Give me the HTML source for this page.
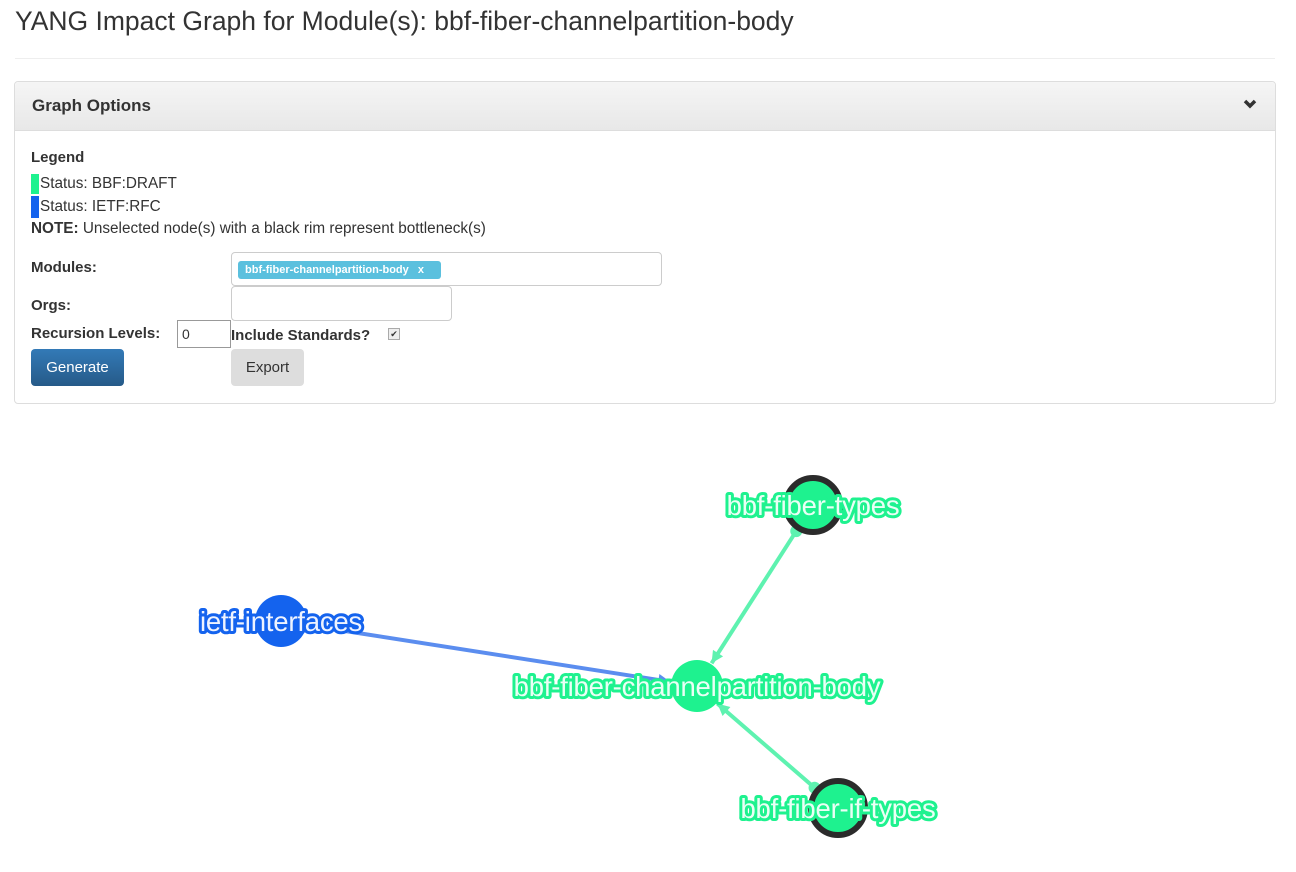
<!DOCTYPE html>
<html><head><meta charset="utf-8">
<style>
body{margin:0;width:1296px;height:872px;background:#fff;font-family:"Liberation Sans",Arial,sans-serif;color:#333;position:relative;overflow:hidden}
.abs{position:absolute}
h1{position:absolute;left:15px;top:6px;margin:0;font-weight:normal;font-size:26.5px;color:#333}
.hr{left:15px;top:58px;width:1260px;height:1px;background:#eee}
.panel{left:14px;top:81px;width:1260px;height:321px;border:1px solid #ddd;border-radius:4px}
.ph{left:0;top:0;width:1260px;height:48px;background:linear-gradient(#f5f5f5,#e8e8e8);border-bottom:1px solid #ddd;border-radius:4px 4px 0 0}
.b{font-weight:bold;font-size:15px}
.t{font-size:15.3px}
</style></head><body>
<h1>YANG Impact Graph for Module(s): bbf-fiber-channelpartition-body</h1>
<div class="abs hr"></div>
<div class="abs panel">
  <div class="abs ph">
    <div class="abs" style="left:17px;top:14px;font-size:17px;font-weight:bold">Graph Options</div>
    <svg class="abs" style="left:1228px;top:17px" width="14" height="10"><path d="M2 2 L7 7 L12 2" stroke="#333" stroke-width="3.5" fill="none"/></svg>
  </div>
</div>
<div class="abs b" style="left:31px;top:149px">Legend</div>
<div class="abs" style="left:31px;top:174px;width:8px;height:20px;background:#1ef28f"></div>
<div class="abs t" style="left:40px;top:175px">Status: BBF:DRAFT</div>
<div class="abs" style="left:31px;top:196px;width:8px;height:22px;background:#1463ee"></div>
<div class="abs t" style="left:40px;top:198px">Status: IETF:RFC</div>
<div class="abs t" style="left:31px;top:220px"><b>NOTE:</b> Unselected node(s) with a black rim represent bottleneck(s)</div>
<div class="abs b" style="left:31px;top:259px">Modules:</div>
<div class="abs" style="left:231px;top:252px;width:429px;height:32px;border:1px solid #ccc;border-radius:4px">
  <div class="abs" style="left:6px;top:8px;height:18px;width:203px;background:#5bc0de;border-radius:3px;color:#fff;font-size:11px;font-weight:bold;line-height:18px;padding-left:7px;box-sizing:border-box">bbf-fiber-channelpartition-body &nbsp;&nbsp;x</div>
</div>
<div class="abs b" style="left:31px;top:297px">Orgs:</div>
<div class="abs" style="left:231px;top:286px;width:219px;height:33px;border:1px solid #ccc;border-radius:4px"></div>
<div class="abs b" style="left:31px;top:325px">Recursion Levels:</div>
<div class="abs" style="left:177px;top:320px;width:54px;height:28px;border:1px solid #999;font-size:14px;line-height:27px;padding-left:4px;box-sizing:border-box">0</div>
<div class="abs b" style="left:231px;top:327px">Include Standards?</div>
<div class="abs" style="left:388px;top:328px;width:10px;height:10px;border:1px solid #aaa;background:#eee;font-size:9px;line-height:10px;text-align:center">✔</div>
<div class="abs" style="left:31px;top:349px;width:93px;height:37px;background:linear-gradient(#337ab7,#265a88);border-radius:4px;color:#fff;font-size:15px;line-height:37px;text-align:center">Generate</div>
<div class="abs" style="left:231px;top:349px;width:73px;height:37px;background:#ddd;border-radius:4px;color:#333;font-size:15px;line-height:37px;text-align:center">Export</div>

<svg class="abs" style="left:0;top:0" width="1296" height="872" id="g"></svg>
<script>
const nodeNames=["bbf-fiber-types","ietf-interfaces","bbf-fiber-channelpartition-body","bbf-fiber-if-types"];
const nodeX=[813,281,697,838];
const nodeY=[505,621,686,808];
const nodeStatus=["draft","rfc","draft","draft"];
const nodeBottleneck=[true,false,false,true];
const edgeFrom=[0,1,3];
const edgeTo=[2,2,2];
const NS="http://www.w3.org/2000/svg";
const svg=document.getElementById('g');
const fill={draft:"#1ef28f",rfc:"#1463ee"};
const edgeCol={draft:"#5ef2b0",rfc:"#5b8def"};
function mk(t,a){const e=document.createElementNS(NS,t);for(const k in a)e.setAttribute(k,a[k]);svg.appendChild(e);return e;}
edgeFrom.forEach((f,i)=>{
  const t=edgeTo[i];
  const x1=nodeX[f],y1=nodeY[f],x2=nodeX[t],y2=nodeY[t];
  const dx=x2-x1,dy=y2-y1,L=Math.hypot(dx,dy),ux=dx/L,uy=dy/L;
  const sx=x1+ux*31,sy=y1+uy*31,ex=x2-ux*27,ey=y2-uy*27;
  const c=edgeCol[nodeStatus[f]];
  const l=mk('line',{x1:sx,y1:sy,x2:ex,y2:ey,stroke:c,'stroke-width':4});
  
  
  if(nodeStatus[f]==='draft'){
    const d=mk('circle',{cx:sx,cy:sy,r:6,fill:c});
    
    
  }
  const px=-uy,py=ux;
  const a=mk('polygon',{points:`${ex},${ey} ${ex-ux*12+px*6},${ey-uy*12+py*6} ${ex-ux*12-px*6},${ey-uy*12-py*6}`,fill:c});
  
  
});
nodeNames.forEach((n,i)=>{
  const c=mk('circle',{cx:nodeX[i],cy:nodeY[i],r:nodeBottleneck[i]?27:26,fill:fill[nodeStatus[i]],stroke:nodeBottleneck[i]?'#2b2b2b':'none','stroke-width':nodeBottleneck[i]?6:0});
  
  
});
nodeNames.forEach((n,i)=>{
  const t=mk('text',{x:nodeX[i],y:nodeY[i]+10,'text-anchor':'middle','font-family':'Liberation Sans, Arial, sans-serif','font-size':27.5,fill:nodeStatus[i]==='rfc'?'#eef3ff':'#eafff5',stroke:nodeStatus[i]==='rfc'?'#1463ee':'#1ef28f','stroke-width':6,'paint-order':'stroke','stroke-linejoin':'round','letter-spacing':'-0.2'});
  t.textContent=n;
  
  
});
</script>
</body></html>
